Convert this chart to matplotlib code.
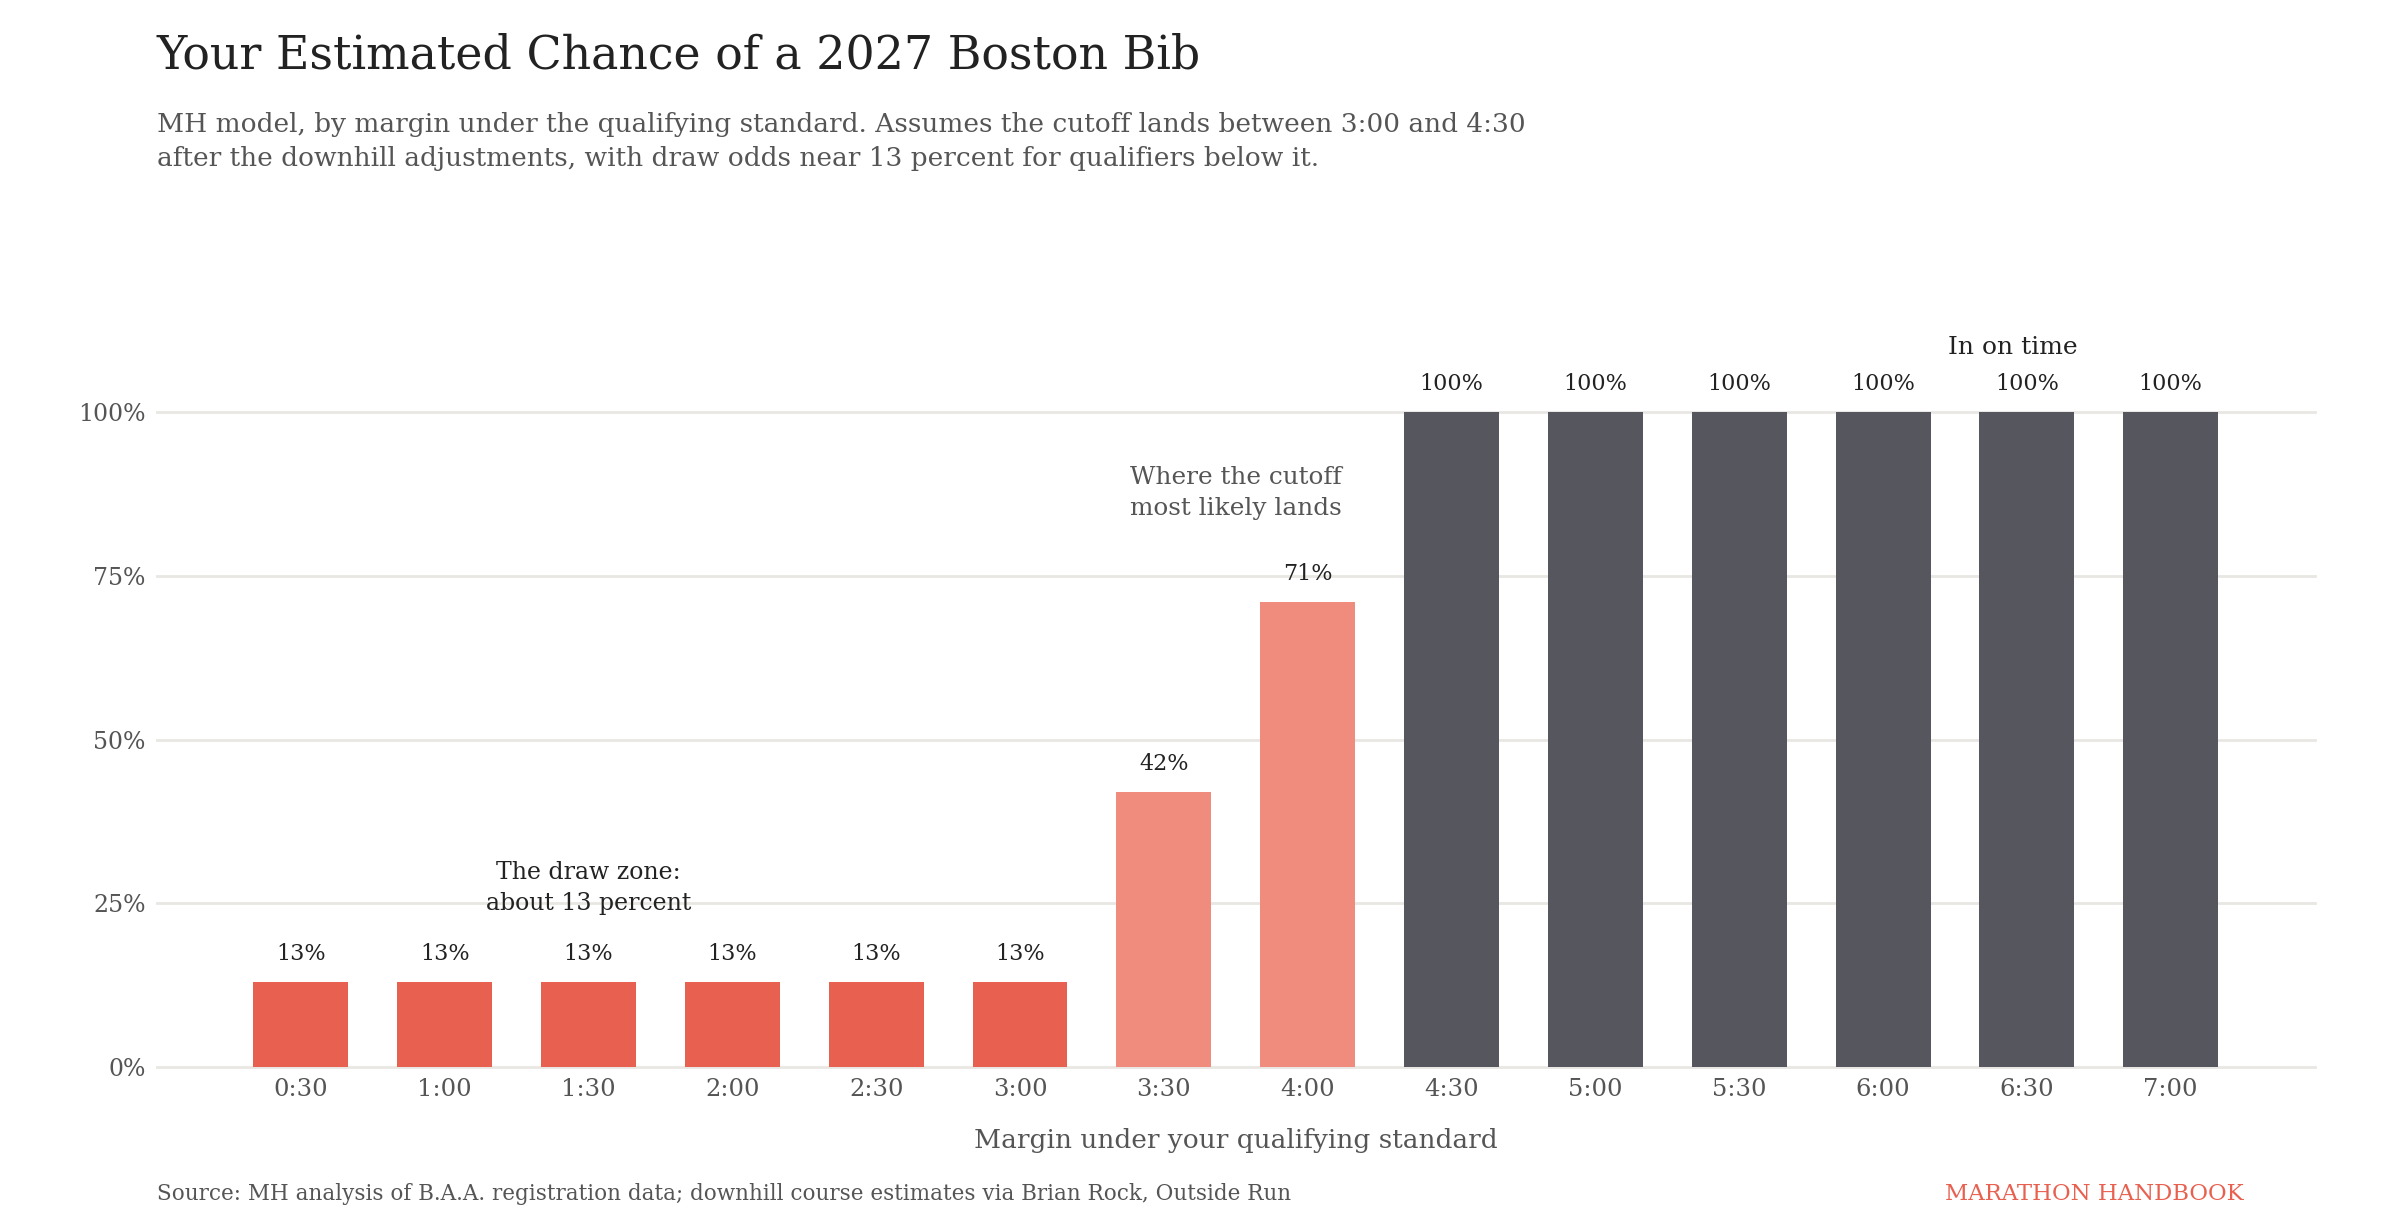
import matplotlib
matplotlib.use('Agg')
import matplotlib.pyplot as plt

plt.rcParams['font.family'] = ['DejaVu Serif']

margins = ['0:30', '1:00', '1:30', '2:00', '2:30', '3:00', '3:30',
           '4:00', '4:30', '5:00', '5:30', '6:00', '6:30', '7:00']
chance = [13, 13, 13, 13, 13, 13, 42, 71, 100, 100, 100, 100, 100, 100]
zone = ['draw'] * 6 + ['cutoff'] * 2 + ['in'] * 6
zone_colors = {'draw': '#E8604F', 'cutoff': '#EF8C7D', 'in': '#56565E'}
y_ticks = [0, 25, 50, 75, 100]

dark = '#222222'
grey = '#555555'

fig = plt.figure(figsize=(24, 12.28), dpi=100)
ax = fig.add_axes([0.0654, 0.1311, 0.899, 0.5334])

x = list(range(len(margins)))
ax.bar(x, chance, width=0.66, color=[zone_colors[z] for z in zone], zorder=3)

for xi, v in zip(x, chance):
    ax.text(xi, v + 4.2, f'{v}%', ha='center', va='center', fontsize=16, color=dark)

ax.set_xlim(-1, 14)
ax.set_ylim(0, 100)
ax.set_yticks(y_ticks)
ax.set_yticklabels([f'{t}%' for t in y_ticks])
ax.set_xticks(x)
ax.set_xticklabels(margins)
ax.tick_params(axis='both', length=0, labelsize=17, labelcolor=grey)
ax.tick_params(axis='x', labelsize=17.5, pad=8)
ax.tick_params(axis='y', pad=8)
ax.grid(axis='y', color='#E8E7E3', linewidth=2, zorder=0)
for g in ax.yaxis.get_gridlines():
    g.set_clip_on(False)
for s in ax.spines.values():
    s.set_visible(False)

ax.set_xlabel('Margin under your qualifying standard', fontsize=19, color=grey, labelpad=19)

# annotations
ax.text(2, 27.3, 'The draw zone:\nabout 13 percent', ha='center', va='center',
        fontsize=17, color=dark, linespacing=1.42)
ax.text(6.5, 87.6, 'Where the cutoff\nmost likely lands', ha='center', va='center',
        fontsize=17.8, color=grey, linespacing=1.42)
ax.text(11.9, 109.9, 'In on time', ha='center', va='center', fontsize=18, color=dark)

# titles and footer
fig.text(0.0654, 0.9446, 'Your Estimated Chance of a 2027 Boston Bib', ha='left', va='baseline',
         fontsize=33, color=dark)
fig.text(0.0654, 0.9085, 'MH model, by margin under the qualifying standard. Assumes the cutoff lands between 3:00 and 4:30\n'
         'after the downhill adjustments, with draw odds near 13 percent for qualifiers below it.',
         ha='left', va='top', fontsize=19, color=grey, linespacing=1.45)
fig.text(0.0654, 1 - 1200 / 1228, 'Source: MH analysis of B.A.A. registration data; downhill course estimates via Brian Rock, Outside Run',
         ha='left', va='baseline', fontsize=15.5, color=grey)
fig.text(2244 / 2400, 1 - 1200 / 1228, 'MARATHON HANDBOOK', ha='right', va='baseline',
         fontsize=16.4, color='#E8604F')

fig.savefig('out.png', dpi=100, facecolor='white')
